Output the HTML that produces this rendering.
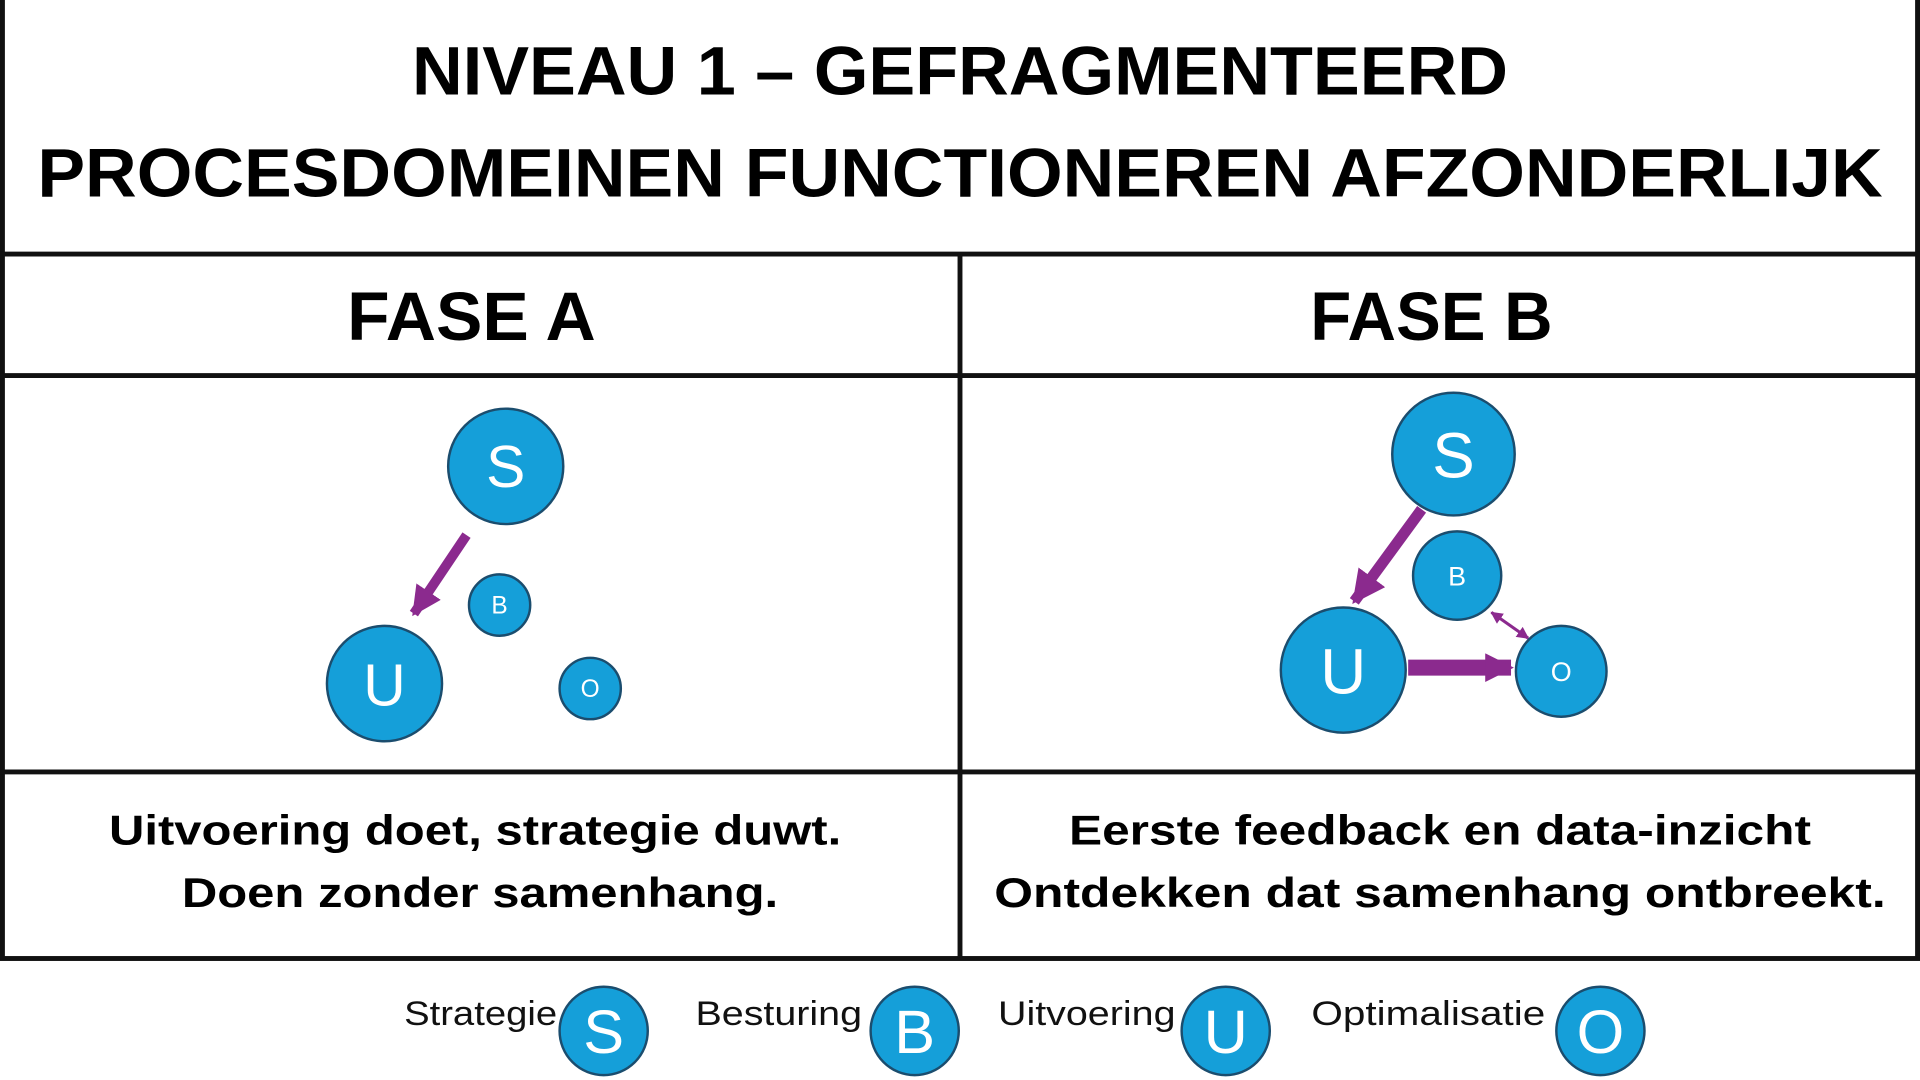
<!DOCTYPE html>
<html><head><meta charset="utf-8"><style>html,body{margin:0;padding:0;background:#fff;overflow:hidden}svg{display:block}</style></head>
<body>
<svg width="1920" height="1080" viewBox="0 0 1568 880" preserveAspectRatio="none" xmlns="http://www.w3.org/2000/svg" font-family="Liberation Sans, sans-serif">
<defs>
<marker id="ah" viewBox="0 0 10 10" refX="9" refY="5" markerWidth="3" markerHeight="3" orient="auto-start-reverse"><path d="M0,0L10,5L0,10z" fill="#8b2a8e"/></marker>
<marker id="ah2" viewBox="0 0 10 10" refX="9" refY="5" markerWidth="1.8" markerHeight="1.8" orient="auto"><path d="M0,0L10,5L0,10z" fill="#8b2a8e"/></marker>
<marker id="ah3" viewBox="0 0 10 10" refX="9" refY="5" markerWidth="4" markerHeight="4" orient="auto-start-reverse"><path d="M0,0L10,5L0,10z" fill="#8b2a8e"/></marker>
</defs>
<rect x="0" y="0" width="1568" height="880" fill="#fff"/>
<g stroke="#111" stroke-width="4" fill="none">
<rect x="2" y="-2" width="1564" height="783"/>
<line x1="0" y1="207" x2="1568" y2="207"/>
<line x1="0" y1="306" x2="1568" y2="306"/>
<line x1="0" y1="629" x2="1568" y2="629"/>
<line x1="784" y1="207" x2="784" y2="781"/>
</g>
<g font-weight="bold" fill="#000" text-anchor="middle">
<text x="784" y="77" font-size="56" textLength="895" lengthAdjust="spacingAndGlyphs">NIVEAU 1 – GEFRAGMENTEERD</text>
<text x="784" y="160" font-size="56" textLength="1507" lengthAdjust="spacingAndGlyphs">PROCESDOMEINEN FUNCTIONEREN AFZONDERLIJK</text>
<text x="385" y="277" font-size="56" textLength="203" lengthAdjust="spacingAndGlyphs">FASE A</text>
<text x="1169" y="277" font-size="56" textLength="198" lengthAdjust="spacingAndGlyphs">FASE B</text>
<text x="388" y="688" font-size="34" textLength="598" lengthAdjust="spacingAndGlyphs">Uitvoering doet, strategie duwt.</text>
<text x="392" y="739" font-size="34" textLength="487" lengthAdjust="spacingAndGlyphs">Doen zonder samenhang.</text>
<text x="1176" y="688" font-size="34" textLength="606" lengthAdjust="spacingAndGlyphs">Eerste feedback en data-inzicht</text>
<text x="1176" y="739" font-size="34" textLength="728" lengthAdjust="spacingAndGlyphs">Ontdekken dat samenhang ontbreekt.</text>
</g>
<g stroke="#8b2a8e" fill="none">
<line x1="381" y1="436" x2="338" y2="500" stroke-width="8" marker-end="url(#ah)"/>
<line x1="1161" y1="415" x2="1106" y2="490" stroke-width="9" marker-end="url(#ah)"/>
<line x1="1150" y1="544" x2="1234" y2="544" stroke-width="13" marker-end="url(#ah2)"/>
<line x1="1218" y1="499" x2="1248" y2="520" stroke-width="2.5" marker-start="url(#ah3)" marker-end="url(#ah3)"/>
</g>
<g fill="#159fd9" stroke="#1b4d6e" stroke-width="2">
<circle cx="413" cy="380" r="47"/><circle cx="408" cy="493" r="25"/><circle cx="314" cy="557" r="47"/><circle cx="482" cy="561" r="25"/>
<circle cx="1187" cy="370" r="50"/><circle cx="1190" cy="469" r="36"/><circle cx="1097" cy="546" r="51"/><circle cx="1275" cy="547" r="37"/>
<circle cx="493" cy="840" r="36"/><circle cx="747" cy="840" r="36"/><circle cx="1001" cy="840" r="36"/><circle cx="1307" cy="840" r="36"/>
</g>
<g fill="#fff" text-anchor="middle">
<text x="413" y="397" font-size="48">S</text><text x="408" y="500" font-size="20">B</text><text x="314" y="575" font-size="48">U</text><text x="482" y="568" font-size="20">O</text>
<text x="1187" y="389" font-size="52">S</text><text x="1190" y="477" font-size="22">B</text><text x="1097" y="565" font-size="52">U</text><text x="1275" y="555" font-size="22">O</text>
<text x="493" y="858" font-size="50">S</text><text x="747" y="858" font-size="50">B</text><text x="1001" y="858" font-size="50">U</text><text x="1307" y="858" font-size="50">O</text>
</g>
<g fill="#111" font-size="28">
<text x="330" y="835" textLength="125" lengthAdjust="spacingAndGlyphs">Strategie</text>
<text x="568" y="835" textLength="136" lengthAdjust="spacingAndGlyphs">Besturing</text>
<text x="815" y="835" textLength="145" lengthAdjust="spacingAndGlyphs">Uitvoering</text>
<text x="1071" y="835" textLength="191" lengthAdjust="spacingAndGlyphs">Optimalisatie</text>
</g>
</svg>
</body></html>
